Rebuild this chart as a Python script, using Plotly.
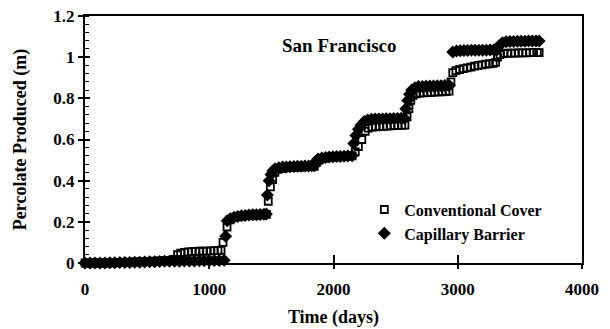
import plotly.graph_objects as go

# ---- data ----
conv_days = [0, 40, 80, 120, 160, 200, 240, 280, 320, 360, 400, 440, 480, 520, 560, 600, 640, 680, 720,
             745, 770, 800, 830, 860, 890, 920, 950, 980, 1010, 1040, 1070, 1095, 1111, 1143, 1165, 1195,
             1225, 1255, 1285, 1315, 1345, 1375, 1405, 1435, 1460, 1475, 1492, 1510, 1528, 1550, 1580,
             1610, 1640, 1670, 1700, 1730, 1760, 1790, 1820, 1845, 1865, 1885, 1915, 1945, 1975, 2005,
             2035, 2065, 2095, 2125, 2150, 2175, 2200, 2228, 2255, 2280, 2310, 2340, 2370, 2400, 2430,
             2460, 2490, 2520, 2550, 2575, 2592, 2607, 2622, 2640, 2665, 2695, 2725, 2755, 2785, 2815,
             2845, 2875, 2905, 2930, 2945, 2960, 2985, 3015, 3045, 3075, 3105, 3135, 3165, 3195, 3225,
             3255, 3285, 3305, 3320, 3340, 3370, 3400, 3430, 3460, 3490, 3520, 3550, 3580, 3610, 3640, 3655]
conv_perc = [0.0, 0.0, 0.0, 0.0, 0.0, 0.001, 0.001, 0.002, 0.003, 0.004, 0.005, 0.006, 0.007, 0.008, 0.009,
             0.010, 0.011, 0.012, 0.018, 0.040, 0.048, 0.052, 0.054, 0.055, 0.056, 0.057, 0.058, 0.058,
             0.059, 0.060, 0.061, 0.062, 0.100, 0.175, 0.210, 0.220, 0.225, 0.228, 0.230, 0.231, 0.232,
             0.233, 0.234, 0.235, 0.236, 0.300, 0.370, 0.405, 0.440, 0.455, 0.460, 0.462, 0.463, 0.464,
             0.465, 0.466, 0.467, 0.468, 0.469, 0.470, 0.490, 0.500, 0.507, 0.511, 0.513, 0.515, 0.516,
             0.517, 0.518, 0.519, 0.520, 0.540, 0.566, 0.600, 0.640, 0.655, 0.660, 0.662, 0.663, 0.664,
             0.665, 0.666, 0.667, 0.668, 0.669, 0.670, 0.710, 0.750, 0.790, 0.815, 0.822, 0.825, 0.827,
             0.828, 0.829, 0.830, 0.831, 0.832, 0.833, 0.835, 0.880, 0.925, 0.935, 0.940, 0.944, 0.948,
             0.952, 0.956, 0.960, 0.963, 0.966, 0.968, 0.970, 0.975, 1.000, 1.012, 1.017, 1.019, 1.020,
             1.020, 1.021, 1.021, 1.021, 1.022, 1.022, 1.022, 1.022]

cap_days = [0, 40, 80, 120, 160, 200, 240, 280, 320, 360, 400, 440, 480, 520, 560, 600, 640, 680, 720,
            760, 800, 840, 880, 920, 960, 1000, 1040, 1080, 1120, 1132, 1145, 1170, 1200, 1230, 1260,
            1290, 1320, 1350, 1380, 1410, 1440, 1460, 1468, 1482, 1497, 1512, 1530, 1560, 1590, 1620,
            1650, 1680, 1710, 1740, 1770, 1800, 1825, 1845, 1858, 1875, 1905, 1935, 1965, 1995, 2025,
            2055, 2085, 2115, 2150, 2163, 2180, 2200, 2222, 2248, 2275, 2305, 2335, 2365, 2395, 2425,
            2455, 2485, 2515, 2545, 2570, 2582, 2597, 2612, 2630, 2655, 2685, 2715, 2745, 2775, 2805,
            2835, 2865, 2895, 2925, 2932, 2960, 2990, 3020, 3050, 3080, 3110, 3140, 3170, 3200, 3230,
            3260, 3290, 3300, 3315, 3332, 3360, 3390, 3420, 3450, 3480, 3510, 3540, 3570, 3600, 3630, 3655]
cap_perc = [0.0, 0.0, 0.0, 0.0, 0.0, 0.001, 0.001, 0.002, 0.002, 0.003, 0.004, 0.004, 0.005, 0.006, 0.006,
            0.007, 0.008, 0.008, 0.009, 0.009, 0.010, 0.010, 0.010, 0.011, 0.011, 0.011, 0.012, 0.012,
            0.013, 0.130, 0.205, 0.215, 0.222, 0.226, 0.229, 0.231, 0.233, 0.234, 0.235, 0.236, 0.237,
            0.238, 0.330, 0.400, 0.430, 0.448, 0.458, 0.463, 0.466, 0.467, 0.468, 0.469, 0.470, 0.470,
            0.471, 0.471, 0.472, 0.472, 0.493, 0.505, 0.510, 0.513, 0.515, 0.516, 0.517, 0.518, 0.519,
            0.520, 0.521, 0.580, 0.620, 0.650, 0.670, 0.688, 0.695, 0.698, 0.699, 0.700, 0.700, 0.701,
            0.701, 0.702, 0.702, 0.703, 0.703, 0.750, 0.790, 0.820, 0.840, 0.852, 0.857, 0.858, 0.859,
            0.860, 0.860, 0.861, 0.861, 0.862, 0.862, 0.862, 1.025, 1.030, 1.031, 1.032, 1.032, 1.033,
            1.033, 1.034, 1.034, 1.034, 1.035, 1.035, 1.035, 1.035, 1.055, 1.070, 1.075, 1.076, 1.076,
            1.077, 1.077, 1.077, 1.078, 1.078, 1.078, 1.078, 1.078, 1.078]

x_ticks = [0, 1000, 2000, 3000, 4000]
y_ticks = [0, 0.2, 0.4, 0.6, 0.8, 1.0, 1.2]
y_tick_text = ["0", "0.2", "0.4", "0.6", "0.8", "1", "1.2"]

FONT = "Liberation Serif, Times New Roman, serif"

fig = go.Figure()
fig.add_trace(go.Scatter(
    x=conv_days, y=conv_perc, mode="markers", name="Conventional Cover",
    marker=dict(symbol="square-open", size=7, color="black", line=dict(width=1.8, color="black")),
    cliponaxis=False))
fig.add_trace(go.Scatter(
    x=cap_days, y=cap_perc, mode="markers", name="Capillary Barrier",
    marker=dict(symbol="diamond", size=10, color="black", line=dict(width=0)),
    cliponaxis=False))
# empty trace to activate the overlay axes that draw the inner half of the crossing ticks
fig.add_trace(go.Scatter(x=[], y=[], xaxis="x2", yaxis="y2", showlegend=False, hoverinfo="skip"))

fig.update_layout(
    width=610, height=329,
    margin=dict(l=85, r=28, t=16, b=66),
    paper_bgcolor="white", plot_bgcolor="white",
    font=dict(family=FONT, size=17, color="black", weight="bold"),
    showlegend=True,
    legend=dict(x=0.562, y=0.285, xanchor="left", yanchor="top", bgcolor="rgba(0,0,0,0)",
                font=dict(family=FONT, size=16, color="black", weight="bold"),
                itemwidth=30, tracegroupgap=0),
    xaxis=dict(range=[0, 4000], tickvals=x_ticks, ticks="outside", ticklen=4, tickwidth=1.5,
               tickcolor="black", showline=True, linewidth=2, linecolor="black", mirror=True,
               showgrid=False, zeroline=False, automargin=False, ticklabelstandoff=6,
               tickfont=dict(family=FONT, size=17, color="black", weight="bold"),
               title=dict(text="Time (days)", standoff=12,
                          font=dict(family=FONT, size=18, color="black", weight="bold"))),
    yaxis=dict(range=[0, 1.2], tickvals=y_ticks, ticktext=y_tick_text, ticks="outside", ticklen=5,
               tickwidth=1.5, tickcolor="black", showline=True, linewidth=2, linecolor="black",
               mirror=True, showgrid=False, zeroline=False, automargin=False,
               minor=dict(ticks="inside", dtick=0.04, ticklen=4, tickwidth=1.2, tickcolor="black"),
               tickfont=dict(family=FONT, size=17, color="black", weight="bold"),
               title=dict(text="Percolate Produced (m)", standoff=22,
                          font=dict(family=FONT, size=18, color="black", weight="bold"))),
    xaxis2=dict(range=[0, 4000], overlaying="x", anchor="y2", tickvals=x_ticks, ticks="inside",
                ticklen=8, tickwidth=1.5, tickcolor="black", showticklabels=False, automargin=False,
                showgrid=False, zeroline=False, showline=False),
    yaxis2=dict(range=[0, 1.2], overlaying="y", anchor="x2", tickvals=y_ticks, ticks="inside",
                ticklen=5, tickwidth=1.5, tickcolor="black", showticklabels=False, automargin=False,
                showgrid=False, zeroline=False, showline=False),
    annotations=[dict(text="San Francisco", x=2050, y=1.055, xref="x", yref="y", showarrow=False,
                      font=dict(family=FONT, size=19, color="black", weight="bold"))],
)

fig.write_html("out.html", config={"displayModeBar": False},
               post_script="document.body.style.margin='0';document.body.style.overflow='hidden';")
